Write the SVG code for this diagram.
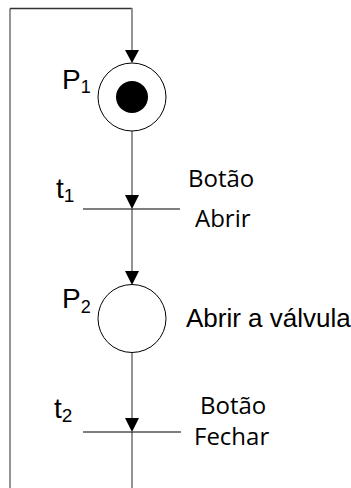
<svg xmlns="http://www.w3.org/2000/svg" width="351" height="488" viewBox="0 0 351 488">
<style>
.conn{stroke:#7a7a7a;stroke-width:1.6;fill:none}
.top{stroke:#333;stroke-width:1.5;fill:none}
.place{fill:#fff;stroke:#000;stroke-width:1}
.bar{stroke:#000;stroke-width:1.2}
.lbl{font-family:"Liberation Sans",Arial,sans-serif;fill:#000}
.cal{font-family:"Open Sans","Noto Sans",sans-serif;font-size:24px;fill:#000}
.arr{fill:#000}
</style>
<rect width="351" height="488" fill="#fff"/>
<g id="connectors">
<path class="conn" d="M10,488 V8.5"/>
<path class="top" d="M10,8.5 H132"/>
<path class="conn" d="M132,8 V52"/>
<path class="conn" d="M132,131 V196"/>
<path class="conn" d="M132,209 V272"/>
<path class="conn" d="M132,352 V419"/>
<path class="conn" d="M132,432 V488"/>
<polygon class="arr" points="125,50 139,50 132,63"/>
<polygon class="arr" points="125,195 139,195 132,209"/>
<polygon class="arr" points="125,271 139,271 132,285"/>
<polygon class="arr" points="125,418 139,418 132,432"/>
</g>
<g id="P1">
<circle class="place" cx="132" cy="97" r="34"/>
<circle cx="132" cy="97" r="16" fill="#000"/>
<text class="lbl" x="62" y="89" font-size="28">P<tspan font-size="18" dy="4">1</tspan></text>
</g>
<g id="t1">
<line class="bar" x1="83" y1="209" x2="180" y2="209"/>
<text class="lbl" x="56" y="198" font-size="28">t<tspan font-size="19" dy="4">1</tspan></text>
<text class="cal" x="188" y="187">Botão</text>
<text class="cal" x="195" y="227">Abrir</text>
</g>
<g id="P2">
<circle class="place" cx="132" cy="318.5" r="34"/>
<text class="lbl" x="62" y="308" font-size="28">P<tspan font-size="18" dy="5">2</tspan></text>
<text class="lbl" x="186" y="327" font-size="26">Abrir a válvula</text>
</g>
<g id="t2">
<line class="bar" x1="83" y1="432" x2="181" y2="432"/>
<text class="lbl" x="54" y="418" font-size="28">t<tspan font-size="19" dy="4">2</tspan></text>
<text class="cal" x="200" y="414">Botão</text>
<text class="cal" x="194" y="445">Fechar</text>
</g>
</svg>
